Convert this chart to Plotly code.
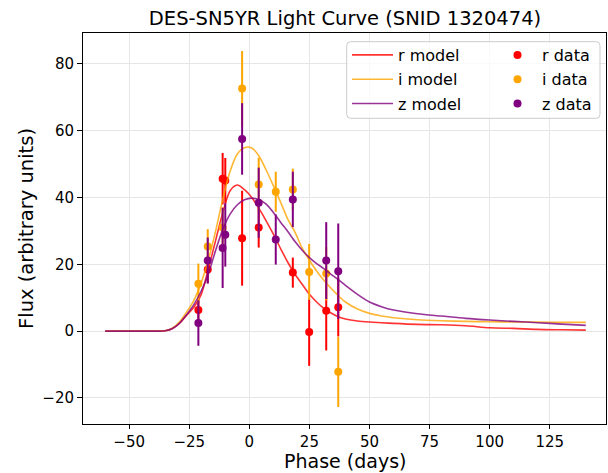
import plotly.graph_objects as go

# ---- data ----
r_phase = [-21.2, -17.3, -11.1, -10.0, -3.0, 3.9, 18.1, 24.9, 32.0, 37.0]
r_flux = [6.3, 18.4, 45.6, 45.1, 27.8, 31.0, 17.5, -0.3, 6.1, 7.1]
r_err = [3.5, 4.0, 7.7, 6.7, 14.2, 6.0, 4.5, 10.1, 11.9, 8.7]

i_phase = [-21.2, -17.3, -11.1, -3.0, 3.9, 11.0, 18.1, 24.9, 32.0, 37.0]
i_flux = [14.2, 25.3, 31.0, 72.6, 43.9, 41.7, 42.4, 17.7, 17.2, -12.2]
i_err = [6.0, 5.2, 6.0, 11.2, 8.0, 6.0, 6.2, 8.4, 8.0, 10.5]

z_phase = [-21.2, -17.3, -11.1, -10.0, -3.0, 3.9, 11.0, 18.1, 32.0, 37.0]
z_flux = [2.4, 21.1, 24.9, 28.8, 57.5, 38.4, 27.4, 39.4, 21.1, 17.9]
z_err = [6.8, 6.9, 12.0, 9.5, 10.7, 10.5, 7.5, 8.3, 11.5, 14.3]

model_phase = [-60, -50, -42, -38, -35, -32, -29, -26, -23, -20, -17, -14, -11, -8, -5, -2,
               1, 4, 7, 10, 13, 16, 19, 22, 25, 28, 31, 34, 37, 40, 45, 50, 55, 60,
               70, 80, 90, 100, 110, 120, 130, 140]
r_model = [0, 0, 0, 0, 0.1, 0.8, 2.4, 4.8, 7.2, 11.0, 18.7, 27.2, 35.6, 42.0, 43.7, 42.3,
           40.0, 36.7, 33.0, 29.0, 24.7, 20.6, 17.0, 14.0, 11.0, 8.7, 6.8, 5.4, 4.3, 3.6, 3.0, 2.7, 2.5, 2.3,
           2.0, 1.9, 1.6, 1.0, 0.8, 0.5, 0.4, 0.3]
i_model = [0, 0, 0, 0, 0.1, 0.9, 2.8, 5.8, 9.3, 14.5, 21.5, 30.0, 39.6, 47.8, 53.0, 54.9,
           54.8, 52.4, 48.2, 43.5, 38.6, 33.5, 29.6, 24.8, 21.2, 18.0, 15.2, 12.8, 10.6, 8.7, 6.6, 5.3, 4.5, 4.0,
           3.4, 3.1, 2.9, 2.8, 2.7, 2.7, 2.6, 2.6]
z_model = [0, 0, 0, 0, 0.1, 0.8, 2.4, 5.0, 8.0, 12.0, 17.2, 24.2, 30.5, 35.0, 37.8, 39.3,
           39.8, 39.3, 38.0, 35.5, 32.6, 29.8, 26.8, 24.2, 22.0, 20.2, 18.7, 17.0, 15.4, 13.7, 11.0, 8.7, 7.3, 6.3,
           5.2, 4.5, 3.8, 3.3, 2.9, 2.5, 2.1, 1.7]

x_ticks = [-50, -25, 0, 25, 50, 75, 100, 125]
y_ticks = [-20, 0, 20, 40, 60, 80]

bands = [
    ("r", r_phase, r_flux, r_err, r_model, "rgba(255,0,0,0.8)", "red"),
    ("i", i_phase, i_flux, i_err, i_model, "rgba(255,165,0,0.8)", "orange"),
    ("z", z_phase, z_flux, z_err, z_model, "rgba(128,0,128,0.8)", "purple"),
]

fig = go.Figure()
for name, ph, fl, er, mod, lc, dc in bands:
    fig.add_trace(go.Scatter(
        x=model_phase, y=mod, mode="lines", name=f"{name} model",
        line=dict(color=lc, width=1.6, shape="spline", smoothing=0.8),
        legend="legend", legendgroup=f"{name}m"))
    fig.add_trace(go.Scatter(
        x=ph, y=fl, mode="markers", name=f"{name} data",
        marker=dict(color=dc, size=8),
        error_y=dict(type="data", array=er, visible=True, color=dc, thickness=2, width=0),
        legend="legend2", legendgroup=f"{name}d"))

L, R, T, B = 83, 2, 33, 49
W, H = 608, 473
pw, ph_ = W - L - R, H - T - B


def px_x(X):
    return (X - L) / pw


def px_y(Y):
    return (H - B - Y) / ph_


# legend frame (rounded rect)
x0, x1 = px_x(346.7), px_x(600)
y0, y1 = px_y(118.3), px_y(41.7)
rx, ry = 4 / pw, 4 / ph_
path = (f"M{x0+rx},{y0} L{x1-rx},{y0} Q{x1},{y0} {x1},{y0+ry} L{x1},{y1-ry} Q{x1},{y1} {x1-rx},{y1} "
        f"L{x0+rx},{y1} Q{x0},{y1} {x0},{y1-ry} L{x0},{y0+ry} Q{x0},{y0} {x0+rx},{y0} Z")

fig.update_layout(
    width=W, height=H,
    margin=dict(l=L, r=R, t=T, b=B, autoexpand=False),
    paper_bgcolor="white", plot_bgcolor="white",
    font=dict(family="DejaVu Sans", color="black", size=15),
    title=dict(text="DES-SN5YR Light Curve (SNID 1320474)", x=px_x(345), xref="paper",
               xanchor="center", y=1 - 18 / H, yref="container", yanchor="middle",
               font=dict(size=19.5)),
    showlegend=True,
    legend=dict(x=px_x(347), y=px_y(38), xanchor="left", yanchor="top", itemwidth=41,
                tracegroupgap=0.5,
                bgcolor="rgba(0,0,0,0)", borderwidth=0, font=dict(size=16)),
    legend2=dict(x=px_x(493), y=px_y(38), xanchor="left", yanchor="top", itemwidth=39,
                 tracegroupgap=0.5,
                 bgcolor="rgba(0,0,0,0)", borderwidth=0, font=dict(size=16)),
    shapes=[dict(type="path", path=path, xref="paper", yref="paper", layer="above",
                 fillcolor="rgba(255,255,255,0.8)", line=dict(color="#cccccc", width=1))],
    annotations=[dict(text="Phase (days)", xref="paper", yref="paper",
                      x=px_x(345), y=px_y(473), xanchor="center", yanchor="bottom",
                      borderpad=0, showarrow=False, font=dict(size=19))],
)
fig.update_xaxes(
    range=[-69.2, 148.4], tickvals=x_ticks, ticks="outside", ticklen=4, tickcolor="black",
    showgrid=True, gridcolor="#e6e6e6", gridwidth=1, zeroline=False, automargin=False,
    showline=True, linecolor="black", linewidth=1, mirror=True,
    tickfont=dict(size=15))
fig.update_yaxes(
    range=[-27.8, 89.2], tickvals=y_ticks, ticks="outside", ticklen=5, tickcolor="black",
    showgrid=True, gridcolor="#e6e6e6", gridwidth=1, zeroline=False, automargin=False,
    showline=True, linecolor="black", linewidth=1, mirror=True,
    title=dict(text="Flux (arbitrary units)", font=dict(size=19.5), standoff=3),
    tickfont=dict(size=15))

fig.write_html("out.html")
